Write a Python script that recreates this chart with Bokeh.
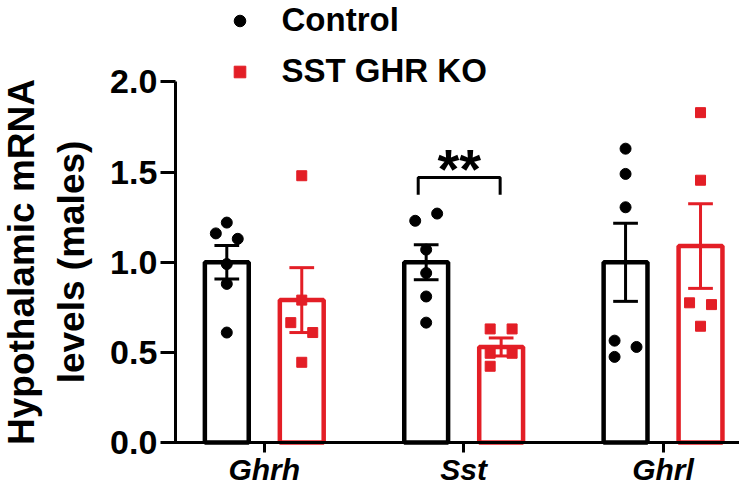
from bokeh.plotting import figure
from bokeh.models import Range1d, FixedTicker, PrintfTickFormatter, Legend, LegendItem, LinearAxis
from bokeh.embed import file_html
from bokeh.resources import INLINE

# ---------------- data ----------------
genes = ["Ghrh", "Sst", "Ghrl"]
groups = ["Control", "SST GHR KO"]

ctrl_mean = [1.0, 1.0, 1.0]
ctrl_sem = [0.093, 0.097, 0.217]
ko_mean = [0.79, 0.53, 1.09]
ko_sem = [0.18, 0.05, 0.235]

ctrl_points = [
    [1.22, 1.16, 1.13, 0.99, 0.88, 0.61],
    [1.27, 1.23, 1.07, 0.94, 0.81, 0.665],
    [1.63, 1.49, 1.305, 0.565, 0.53, 0.475],
]
ctrl_jitter = [
    [0, -1, 1, 0, 0, 0],
    [1, -1, 0, 0, 0, 0],
    [0, 0, 0, -1, 1, -1],
]
ko_points = [
    [1.48, 0.79, 0.665, 0.61, 0.445],
    [0.63, 0.63, 0.495, 0.495, 0.423],
    [1.83, 1.455, 0.775, 0.765, 0.645],
]
ko_jitter = [
    [0, 0, -1, 1, 0],
    [-1, 1, -1, 1, -1],
    [0, 0, -1, 1, 0],
]

sig_x = [0.772, 1.183]
sig_y = [1.375, 1.47]
sig_label = "**"
sig_label_y = 1.52

y_ticks = [0.0, 0.5, 1.0, 1.5, 2.0]
y_bounds = (0.0, 2.0)
y_title_lines = ["Hypothalamic mRNA", "levels (males)"]

# ---------------- style / layout ----------------
RED = "#E31E26"
BLACK = "#000000"
FONT = "Liberation Sans"
offsets = [-0.188, 0.188]
bar_w = 0.22
jit = 0.055
cap = 0.062
Y_AXIS_AT = -0.446

W, H = 739, 488
p = figure(width=W, height=H, output_backend="svg", toolbar_location=None,
           x_range=Range1d(-1.323, 2.3835), y_range=Range1d(-0.2552, 2.4521),
           min_border_left=0, min_border_right=0, min_border_top=0, min_border_bottom=0)
p.outline_line_color = None
p.xgrid.visible = False
p.ygrid.visible = False
p.background_fill_color = "white"
p.border_fill_color = "white"

# bars
for gi, (means, col) in enumerate([(ctrl_mean, BLACK), (ko_mean, RED)]):
    xs = [i + offsets[gi] for i in range(len(genes))]
    p.vbar(x=xs, top=means, bottom=0, width=bar_w, fill_color="white",
           line_color=col, line_width=4.5)

# error bars
for gi, (means, sems, col) in enumerate([(ctrl_mean, ctrl_sem, BLACK), (ko_mean, ko_sem, RED)]):
    xs = [i + offsets[gi] for i in range(len(genes))]
    lo = [m - s for m, s in zip(means, sems)]
    hi = [m + s for m, s in zip(means, sems)]
    p.segment(x0=xs, x1=xs, y0=lo, y1=hi, line_color=col, line_width=3)
    p.segment(x0=[x - cap for x in xs], x1=[x + cap for x in xs], y0=hi, y1=hi, line_color=col, line_width=3)
    p.segment(x0=[x - cap for x in xs], x1=[x + cap for x in xs], y0=lo, y1=lo, line_color=col, line_width=3)

# points
cx, cy, kx, ky = [], [], [], []
for i in range(len(genes)):
    for v, j in zip(ctrl_points[i], ctrl_jitter[i]):
        cx.append(i + offsets[0] + j * jit); cy.append(v)
    for v, j in zip(ko_points[i], ko_jitter[i]):
        kx.append(i + offsets[1] + j * jit); ky.append(v)
r_ctrl = p.scatter(x=cx, y=cy, marker="circle", size=11, fill_color=BLACK, line_color=BLACK)
r_ko = p.scatter(x=kx, y=ky, marker="square", size=10, fill_color=RED, line_color=RED)

# significance bracket
p.line(x=[sig_x[0], sig_x[0], sig_x[1], sig_x[1]], y=[sig_y[0], sig_y[1], sig_y[1], sig_y[0]],
       line_color=BLACK, line_width=3)
p.text(x=[sum(sig_x) / 2], y=[sig_label_y], text=[sig_label], text_align="center",
       text_baseline="alphabetic", text_font_size="56px", text_font_style="bold",
       text_color=BLACK, text_font={"value": FONT})

# axes (placed at fixed data locations, GraphPad style)
yax = p.yaxis[0]
yax.fixed_location = Y_AXIS_AT
yax.bounds = y_bounds
yax.ticker = FixedTicker(ticks=y_ticks)
yax.formatter = PrintfTickFormatter(format="%.1f")
yax.axis_line_width = 3
yax.axis_line_color = BLACK
yax.major_tick_in = 0
yax.major_tick_out = 15
yax.major_tick_line_width = 3
yax.minor_tick_line_alpha = 0
yax.major_label_standoff = 3
yax.major_label_text_font = FONT
yax.major_label_text_font_style = "bold"
yax.major_label_text_font_size = "34px"
yax.major_label_text_color = BLACK
yax.axis_label = None

# two-line axis title: each line carried by its own (tick-less) axis
for line, standoff in zip(y_title_lines, [134, 84]):
    t_ax = LinearAxis(fixed_location=Y_AXIS_AT, bounds=y_bounds, ticker=FixedTicker(ticks=[]),
                      axis_line_alpha=0, major_tick_in=0, major_tick_out=0, minor_tick_in=0,
                      minor_tick_out=0, axis_label=line, axis_label_standoff=standoff,
                      axis_label_text_font=FONT, axis_label_text_font_style="bold",
                      axis_label_text_font_size="37px", axis_label_text_color=BLACK)
    p.add_layout(t_ax, "left")

xax = p.xaxis[0]
xax.fixed_location = 0
xax.bounds = (-0.516, 2.3835)
xax.ticker = FixedTicker(ticks=list(range(len(genes))))
xax.major_label_overrides = {i: g for i, g in enumerate(genes)}
xax.axis_label = None
xax.axis_line_width = 3
xax.axis_line_color = BLACK
xax.major_tick_in = 0
xax.major_tick_out = 10
xax.major_tick_line_width = 3
xax.minor_tick_line_alpha = 0
xax.major_label_standoff = 1
xax.major_label_text_font = FONT
xax.major_label_text_font_style = "bold italic"
xax.major_label_text_font_size = "30px"
xax.major_label_text_color = BLACK

common = dict(orientation="vertical", glyph_width=29, glyph_height=29, label_height=50,
              label_standoff=28, spacing=0, padding=0, margin=0,
              border_line_alpha=0, background_fill_alpha=0,
              label_text_font=FONT, label_text_font_style="bold",
              label_text_font_size="33px", label_text_color=BLACK)
leg_ctrl = Legend(items=[LegendItem(label=groups[0], renderers=[r_ctrl])], location=(224.5, 443), **common)
leg_ko = Legend(items=[LegendItem(label=groups[1], renderers=[r_ko])], location=(224.5, 392), **common)
p.add_layout(leg_ctrl)
p.add_layout(leg_ko)

open("out.html", "w").write(file_html(p, INLINE))
